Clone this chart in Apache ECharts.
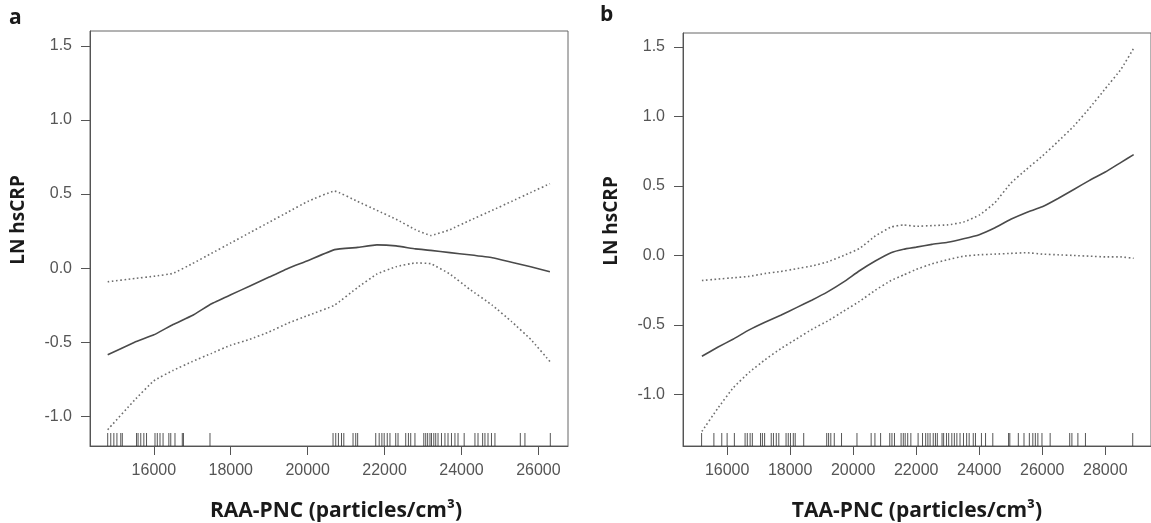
<!DOCTYPE html>
<html>
<head>
<meta charset="utf-8" />
<title>LN hsCRP vs PNC</title>
<script src="https://cdn.jsdelivr.net/npm/echarts@6/dist/echarts.min.js"></script>
<style>
  html, body { margin: 0; padding: 0; background: #fff; }
  #chart { width: 1151px; height: 523px; }
</style>
</head>
<body>
<div id="chart"></div>
<script>
// panel a : RAA-PNC
var raaX     = [14800, 15500, 16000, 16500, 17000, 17500, 18000, 18500, 19000, 19500, 20000, 20700, 21300, 21800, 22300, 22800, 23200, 23700, 24200, 24800, 25300, 25800, 26300];
var raaFit   = [-0.585, -0.50, -0.45, -0.38, -0.32, -0.24, -0.18, -0.12, -0.06, 0.00, 0.05, 0.125, 0.14, 0.157, 0.15, 0.13, 0.12, 0.105, 0.09, 0.07, 0.04, 0.01, -0.025];
var raaUpper = [-0.092, -0.07, -0.055, -0.035, 0.03, 0.10, 0.17, 0.24, 0.31, 0.38, 0.45, 0.52, 0.45, 0.39, 0.33, 0.26, 0.22, 0.26, 0.32, 0.39, 0.45, 0.51, 0.57];
var raaLower = [-1.09, -0.89, -0.76, -0.69, -0.63, -0.575, -0.52, -0.48, -0.43, -0.37, -0.32, -0.25, -0.13, -0.04, 0.01, 0.035, 0.03, -0.04, -0.14, -0.25, -0.36, -0.48, -0.63];
var raaRug   = [14800, 14880, 14960, 15040, 15140, 15180, 15550, 15590, 15660, 15740, 15810, 16030, 16090, 16160, 16240, 16390, 16440, 16550, 16740, 16770, 17460,
                20660, 20730, 20800, 20880, 20940, 21180, 21250, 21300, 21770, 21860, 21930, 21990, 22070, 22140, 22290, 22350, 22550, 22620, 22680, 22790,
                23020, 23070, 23120, 23180, 23220, 23280, 23330, 23390, 23480, 23570, 23650, 23740, 23830, 23910, 24070, 24350, 24430, 24550, 24610, 24690,
                24780, 24870, 25530, 25650, 26310];

// panel b : TAA-PNC
var taaX     = [15200, 15700, 16200, 16700, 17200, 17700, 18200, 18700, 19200, 19700, 20200, 20700, 21200, 21600, 22000, 22500, 23000, 23500, 24000, 24500, 25000, 25500, 26000, 26500, 27000, 27500, 28000, 28500, 28900];
var taaFit   = [-0.725, -0.66, -0.60, -0.535, -0.48, -0.43, -0.375, -0.32, -0.26, -0.19, -0.11, -0.04, 0.02, 0.045, 0.06, 0.08, 0.095, 0.12, 0.15, 0.20, 0.26, 0.31, 0.35, 0.41, 0.475, 0.54, 0.60, 0.67, 0.725];
var taaUpper = [-0.18, -0.17, -0.16, -0.15, -0.13, -0.115, -0.095, -0.075, -0.045, 0.0, 0.05, 0.14, 0.205, 0.22, 0.21, 0.215, 0.22, 0.24, 0.29, 0.38, 0.52, 0.62, 0.715, 0.82, 0.93, 1.06, 1.20, 1.34, 1.49];
var taaLower = [-1.265, -1.10, -0.95, -0.84, -0.75, -0.67, -0.60, -0.53, -0.47, -0.40, -0.33, -0.25, -0.18, -0.14, -0.10, -0.06, -0.03, -0.005, 0.005, 0.01, 0.015, 0.02, 0.01, 0.005, 0.0, -0.005, -0.01, -0.01, -0.02];
var taaRug   = [15190, 15580, 15830, 16000, 16230, 16570, 16640, 16730, 16800, 17060, 17120, 17190, 17400, 17470, 17560, 17640, 17870, 17940, 18010, 18100,
                18160, 18430, 19160, 19220, 19290, 19400, 19630, 20120, 20570, 20690, 20870, 21160, 21230, 21310, 21520, 21590, 21650, 21730, 21830,
                22060, 22200, 22300, 22370, 22440, 22540, 22610, 22670, 22820, 22870, 22960, 23030, 23130, 23210, 23290, 23390, 23500, 23600, 23680,
                23810, 23880, 24070, 24200, 24430, 24930, 24970, 25240, 25420, 25590, 25700, 25780, 25860, 25990, 26250, 26870, 26940, 27130, 27370, 28870];

var xTicksA = [16000, 18000, 20000, 22000, 24000, 26000];
var xTicksB = [16000, 18000, 20000, 22000, 24000, 26000, 28000];
var yTicks  = [-1.0, -0.5, 0.0, 0.5, 1.0, 1.5];

var yMinA = -1.2, yMaxA = 1.6;
var yMinB = -1.37, yMaxB = 1.6;

function pairs(xs, ys) {
    return xs.map(function (x, i) { return [x, ys[i]]; });
}

var gray = '#555';
var labelStyle = { color: '#555', fontSize: 16, fontFamily: 'Liberation Sans' };

function xAxisFor(idx, min, max, ticks) {
    return {
        type: 'value', gridIndex: idx, min: min, max: max,
        axisLine: { show: true, onZero: false, lineStyle: { color: gray } },
        splitLine: { show: true, lineStyle: { opacity: 0 } },
        axisTick: { show: true, length: 9, customValues: ticks, lineStyle: { color: gray } },
        axisLabel: { margin: 17, customValues: ticks, formatter: function (v) { return String(v); },
                     color: labelStyle.color, fontSize: labelStyle.fontSize, fontFamily: labelStyle.fontFamily }
    };
}
function yAxisFor(idx, min, max) {
    return {
        type: 'value', gridIndex: idx, min: min, max: max,
        axisLine: { show: true, onZero: false, lineStyle: { color: gray } },
        splitLine: { show: true, lineStyle: { opacity: 0 } },
        axisTick: { show: true, length: 9, customValues: yTicks, lineStyle: { color: gray } },
        axisLabel: { margin: 18, customValues: yTicks, formatter: function (v) { return v.toFixed(1); },
                     color: labelStyle.color, fontSize: labelStyle.fontSize, fontFamily: labelStyle.fontFamily }
    };
}

function curve(idx, data, dotted) {
    return {
        type: 'line', xAxisIndex: idx, yAxisIndex: idx, data: data,
        symbol: 'none', smooth: 0.1,
        lineStyle: dotted
            ? { color: '#6e6e6e', width: 1.6, type: [1.6, 2.6] }
            : { color: '#4a4a4a', width: 1.6 }
    };
}
function rug(idx, xs, ymin) {
    return {
        type: 'scatter', xAxisIndex: idx, yAxisIndex: idx,
        data: xs.map(function (x) { return [x, ymin]; }),
        symbol: 'rect', symbolSize: [1, 13], symbolOffset: [0, -6.5],
        itemStyle: { color: '#2a2a2a' }
    };
}

var titleFont = { fontFamily: 'Open Sans', fontWeight: 'bold', fill: '#1a1a1a' };

var chart = echarts.init(document.getElementById('chart'));
chart.setOption({
    animation: false,
    grid: [
        { left: 90, top: 31, width: 478, height: 415, show: true, borderColor: '#666' },
        { left: 683, top: 33, width: 477, height: 413, show: true, borderColor: '#666' }
    ],
    xAxis: [
        xAxisFor(0, 14340, 26770, xTicksA),
        xAxisFor(1, 14600, 29450, xTicksB)
    ],
    yAxis: [
        yAxisFor(0, yMinA, yMaxA),
        yAxisFor(1, yMinB, yMaxB)
    ],
    series: [
        curve(0, pairs(raaX, raaUpper), true),
        curve(0, pairs(raaX, raaLower), true),
        curve(0, pairs(raaX, raaFit), false),
        rug(0, raaRug, yMinA),
        curve(1, pairs(taaX, taaUpper), true),
        curve(1, pairs(taaX, taaLower), true),
        curve(1, pairs(taaX, taaFit), false),
        rug(1, taaRug, yMinB)
    ],
    graphic: [
        { type: 'text', left: 9, top: 8, style: Object.assign({ text: 'a', fontSize: 21 }, titleFont) },
        { type: 'text', left: 600, top: 5, style: Object.assign({ text: 'b', fontSize: 21 }, titleFont) },
        { type: 'text', x: 19, y: 220, rotation: Math.PI / 2,
          style: Object.assign({ text: 'LN hsCRP', fontSize: 19, align: 'center', verticalAlign: 'middle' }, titleFont) },
        { type: 'text', x: 612, y: 221, rotation: Math.PI / 2,
          style: Object.assign({ text: 'LN hsCRP', fontSize: 19, align: 'center', verticalAlign: 'middle' }, titleFont) },
        { type: 'text', x: 336, y: 511,
          style: Object.assign({ text: 'RAA-PNC (particles/cm³)', fontSize: 21, align: 'center', verticalAlign: 'middle' }, titleFont) },
        { type: 'text', x: 917, y: 511,
          style: Object.assign({ text: 'TAA-PNC (particles/cm³)', fontSize: 21, align: 'center', verticalAlign: 'middle' }, titleFont) }
    ]
});
</script>
</body>
</html>
